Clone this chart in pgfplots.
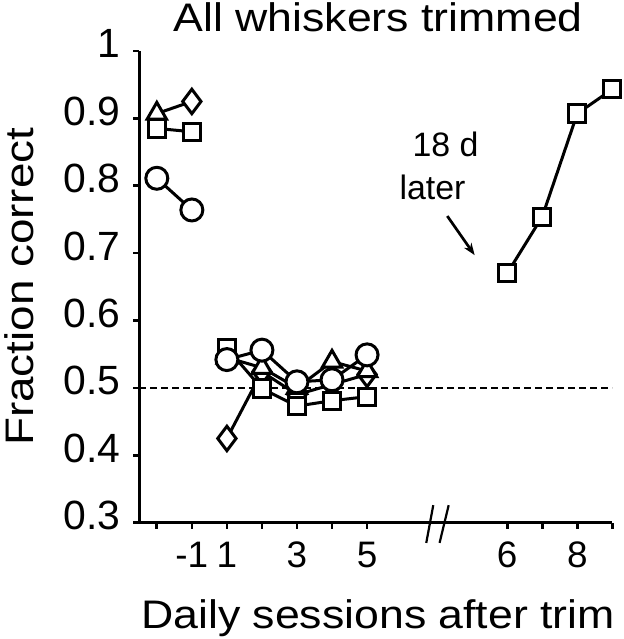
\documentclass[border=0pt]{standalone}
\usepackage{pgfplots}
\pgfplotsset{compat=1.18}
\usetikzlibrary{arrows.meta}
\usepackage{fontspec}
\setmainfont{Liberation Sans}
\begin{document}
\begin{tikzpicture}
\begin{axis}[name=ax,
 scale only axis, width=473bp, height=471.8bp,
 xmin=-0.5, xmax=13, ymin=0.3, ymax=1,
 axis x line=bottom, axis y line=left,
 axis line style={-, line width=2.7bp},
 xtick={0,1,2,3,4,5,6,10,11,12,13},
 xticklabels={,-1,1,,3,,5,6,,8,},
 ytick={0.3,0.4,0.5,0.6,0.7,0.8,0.9,1},
 yticklabels={0.3,0.4,0.5,0.6,0.7,0.8,0.9,1},
 tick style={line width=2.7bp, black},
 major tick length=6bp,
 tick align=outside,
 xticklabel style={font=\fontsize{37}{40}\selectfont, inner sep=0pt, anchor=north, yshift=-13bp},
 yticklabel style={font=\fontsize{41}{44}\selectfont, inner sep=0pt, anchor=east, yshift=7bp, xshift=-13bp},
 xlabel={\scalebox{1.12}[1]{Daily sessions after trim}},
 ylabel={\scalebox{1.15}[1]{Fraction correct}},
 title={\scalebox{1.12}[1]{All whiskers trimmed}},
 every axis title shift=0pt,
 label style={font=\fontsize{40}{44}\selectfont, inner sep=0pt},
 xlabel style={at={(axis description cs:0.5047,-0.2232)}, anchor=base},
 ylabel style={at={(axis description cs:-0.224,0.5)}, anchor=base},
 title style={font=\fontsize{40}{44}\selectfont, inner sep=0pt, at={(axis description cs:0.505,1.0403)}, anchor=base},
 clip=false,
 every axis plot/.append style={black, line width=3bp, mark options={fill=white, solid, line width=3bp}},
]
% chance line
\addplot[dashed, line width=2bp, dash pattern=on 7bp off 4bp, mark=none] coordinates {(-0.5,0.5) (13,0.5)};
% pre-trim sessions (-2, -1)
\addplot[mark=none] coordinates {(0,0.907) (1,0.925)};
\addplot[only marks, mark=triangle*, mark size=11.2bp] coordinates {(0,0.907)};
\addplot[only marks, mark=diamond*, mark size=12.2bp] coordinates {(1,0.925)};
\addplot[mark=square*, mark size=8.6bp] coordinates {(0,0.885) (1,0.880)};
\addplot[mark=*, mark size=11bp] coordinates {(0,0.811) (1,0.764)};
% post-trim sessions 1-5
\addplot[mark=diamond*, mark size=12.2bp] coordinates {(2,0.425) (3,0.524) (4,0.490) (5,0.505) (6,0.520)};
\addplot[mark=triangle*, mark size=11.2bp] coordinates {(2,0.545) (3,0.530) (4,0.500) (5,0.539) (6,0.525)};
\addplot[mark=square*, mark size=8.6bp] coordinates {(2,0.559) (3,0.499) (4,0.473) (5,0.481) (6,0.487)};
\addplot[mark=*, mark size=11bp] coordinates {(2,0.542) (3,0.556) (4,0.509) (5,0.512) (6,0.549)};
% 18 d later: sessions 6-9
\addplot[mark=square*, mark size=8.6bp] coordinates {(10,0.670) (11,0.754) (12,0.907) (13,0.943)};
% annotation
\node[font=\fontsize{34}{38}\selectfont, inner sep=0pt] at (axis cs:8.24,0.862) {18 d};
\node[font=\fontsize{34}{38}\selectfont, inner sep=0pt] at (axis cs:7.87,0.797) {later};
\draw[line width=2.7bp, -{Stealth[length=12bp, width=9bp]}] (axis cs:8.29,0.755) -- (axis cs:9.07,0.697);
% axis break
\draw[line width=2.2bp] (axis cs:7.69,0.270) -- (axis cs:7.89,0.326);
\draw[line width=2.2bp] (axis cs:8.07,0.270) -- (axis cs:8.33,0.326);
\coordinate (bbsw) at ([xshift=-139.3bp,yshift=-116.3bp]axis cs:-0.5,0.3);
\coordinate (bbne) at ([xshift=10.7bp,yshift=50.9bp]axis cs:13,1);
\end{axis}
\pgfresetboundingbox
\path (bbsw) rectangle (bbne);
\end{tikzpicture}
\end{document}
